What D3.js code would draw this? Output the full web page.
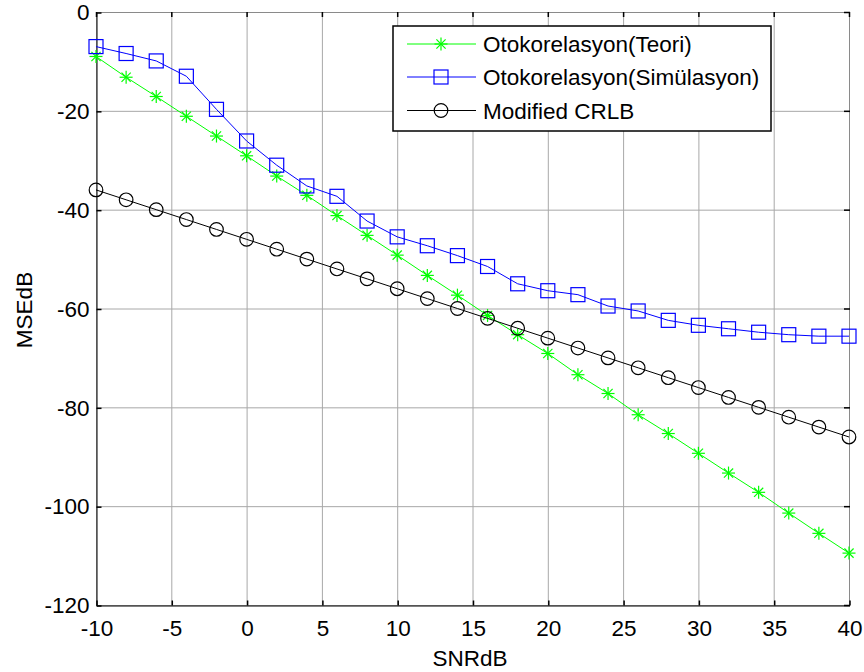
<!DOCTYPE html>
<html>
<head>
<meta charset="utf-8">
<script src="https://cdn.jsdelivr.net/npm/d3@7/dist/d3.min.js"></script>
<style>
  html, body { margin: 0; padding: 0; background: #fff; }
  svg { display: block; }
  text { font-family: Arial, "Liberation Sans", sans-serif; fill: #000; }
</style>
</head>
<body>
<svg id="chart" width="864" height="672"></svg>
<script>
// SNR (dB) sample points
const snr = [-10, -8, -6, -4, -2, 0, 2, 4, 6, 8, 10, 12, 14, 16, 18, 20, 22, 24, 26, 28, 30, 32, 34, 36, 38, 40];

// MSE (dB) per series
const teori = [-9, -13.2, -17.1, -21.1, -25.1, -29.1, -33.2, -37.1, -41.2, -45.2, -49.2, -53.3, -57.3,
               -61.4, -65.3, -69.1, -73.4, -77.2, -81.5, -85.3, -89.3, -93.3, -97.2, -101.4, -105.5, -109.5];
const simulasyon = [-7.0, -8.4, -9.9, -13.0, -19.7, -26.1, -31.0, -35.2, -37.3, -42.3, -45.5, -47.3, -49.3,
                    -51.5, -55.0, -56.4, -57.2, -59.5, -60.5, -62.4, -63.4, -64.1, -64.8, -65.3, -65.6, -65.6];
const crlb = [-36, -38, -40, -42, -44, -46, -48, -50, -52, -54, -56, -58, -60,
              -62, -64, -66, -68, -70, -72, -74, -76, -78, -80, -82, -84, -86];

const xTicks = [-10, -5, 0, 5, 10, 15, 20, 25, 30, 35, 40];
const yTicks = [-120, -100, -80, -60, -40, -20, 0];

const seriesNames = ["Otokorelasyon(Teori)", "Otokorelasyon(Simülasyon)", "Modified CRLB"];
const seriesColors = ["#00ff00", "#0000ff", "#000000"];
const seriesMarkers = ["star", "square", "circle"];

const svg = d3.select("#chart");
const pL = 96, pR = 849, pT = 12, pB = 605;
const x = d3.scaleLinear().domain([-10, 40]).range([pL, pR]);
const y = d3.scaleLinear().domain([-120, 0]).range([pB, pT]);

const fontSize = 22.5;
const fmt = d => String(d); // plain hyphen-minus

// grid
const grid = svg.append("g");
grid.selectAll("line.gx").data(xTicks).enter().append("line")
  .attr("x1", d => x(d) + 0.5).attr("x2", d => x(d) + 0.5)
  .attr("y1", pT).attr("y2", pB)
  .attr("stroke", "#a8a8a8").attr("stroke-width", 1);
grid.selectAll("line.gy").data(yTicks).enter().append("line")
  .attr("x1", pL).attr("x2", pR)
  .attr("y1", d => y(d) + 0.5).attr("y2", d => y(d) + 0.5)
  .attr("stroke", "#a8a8a8").attr("stroke-width", 1);

// top and right box edges
svg.append("line").attr("x1", pL).attr("x2", pR).attr("y1", pT + 0.5).attr("y2", pT + 0.5)
  .attr("stroke", "#8a8a8a");
svg.append("line").attr("x1", pR + 0.5).attr("x2", pR + 0.5).attr("y1", pT).attr("y2", pB)
  .attr("stroke", "#8a8a8a");

// axes with inward ticks
const xAxis = d3.axisBottom(x).tickValues(xTicks).tickFormat(fmt).tickSizeInner(-5).tickSizeOuter(0);
const gx = svg.append("g").attr("transform", `translate(0.5,${pB + 0.5})`).call(xAxis);
gx.selectAll("text").style("font-size", fontSize + "px").attr("dy", null).attr("y", 30);

const yAxis = d3.axisLeft(y).tickValues(yTicks).tickFormat(fmt).tickSizeInner(-5).tickSizeOuter(0);
const gy = svg.append("g").attr("transform", `translate(${pL + 0.5},0.5)`).call(yAxis);
gy.selectAll("text").style("font-size", fontSize + "px").attr("x", -7);

[gx, gy].forEach(g => {
  g.select(".domain").attr("stroke", "#000").attr("stroke-width", 1);
  g.selectAll(".tick line").attr("stroke", "#000").attr("stroke-width", 1.5);
  g.selectAll("text").style("font-family", "Arial, 'Liberation Sans', sans-serif").attr("fill", "#000");
});

// top and right tick marks
svg.append("g").selectAll("line").data(xTicks).enter().append("line")
  .attr("x1", d => x(d) + 0.5).attr("x2", d => x(d) + 0.5)
  .attr("y1", pT).attr("y2", pT + 5).attr("stroke", "#000").attr("stroke-width", 1.5);
svg.append("g").selectAll("line").data(yTicks).enter().append("line")
  .attr("x1", pR - 5).attr("x2", pR + 1)
  .attr("y1", d => y(d) + 0.5).attr("y2", d => y(d) + 0.5).attr("stroke", "#000").attr("stroke-width", 1.5);

// axis titles
svg.append("text").attr("x", 470).attr("y", 666)
  .attr("text-anchor", "middle").style("font-size", fontSize + "px").text("SNRdB");
svg.append("text").attr("transform", `translate(32,310) rotate(-90)`)
  .attr("text-anchor", "middle").style("font-size", fontSize + "px").text("MSEdB");

// marker drawing
function drawMarker(g, kind, color) {
  if (kind === "square") {
    g.append("rect").attr("x", -7).attr("y", -7).attr("width", 14).attr("height", 14)
      .attr("fill", "none").attr("stroke", color).attr("stroke-width", 1.2);
  } else if (kind === "circle") {
    g.append("circle").attr("r", 6.8).attr("fill", "none").attr("stroke", color).attr("stroke-width", 1.2);
  } else {
    const r = 6.5, d = r * 0.7071;
    [[-r, 0, r, 0], [0, -r, 0, r], [-d, -d, d, d], [-d, d, d, -d]].forEach(s => {
      g.append("line").attr("x1", s[0]).attr("y1", s[1]).attr("x2", s[2]).attr("y2", s[3])
        .attr("stroke", color).attr("stroke-width", 1.2);
    });
  }
}

const allSeries = [teori, simulasyon, crlb];
const lineGen = d3.line().x(d => x(d[0])).y(d => y(d[1]));

allSeries.forEach((vals, i) => {
  const pts = snr.map((s, k) => [s, vals[k]]);
  const g = svg.append("g");
  g.append("path").attr("d", lineGen(pts)).attr("fill", "none")
    .attr("stroke", seriesColors[i]).attr("stroke-width", 1);
  pts.forEach(p => {
    const m = g.append("g").attr("transform", `translate(${x(p[0])},${y(p[1])})`);
    drawMarker(m, seriesMarkers[i], seriesColors[i]);
  });
});

// legend
const lg = svg.append("g");
lg.append("rect").attr("x", 393).attr("y", 26).attr("width", 378).attr("height", 105)
  .attr("fill", "#fff").attr("stroke", "#000").attr("stroke-width", 1.5);
const rowY = [44, 77, 110.5];
seriesNames.forEach((name, i) => {
  lg.append("line").attr("x1", 407).attr("x2", 476).attr("y1", rowY[i]).attr("y2", rowY[i])
    .attr("stroke", seriesColors[i]).attr("stroke-width", 1);
  const m = lg.append("g").attr("transform", `translate(441,${rowY[i]})`);
  drawMarker(m, seriesMarkers[i], seriesColors[i]);
  lg.append("text").attr("x", 483).attr("y", rowY[i]).attr("dy", "0.36em")
    .style("font-size", fontSize + "px").text(name);
});
</script>
</body>
</html>
